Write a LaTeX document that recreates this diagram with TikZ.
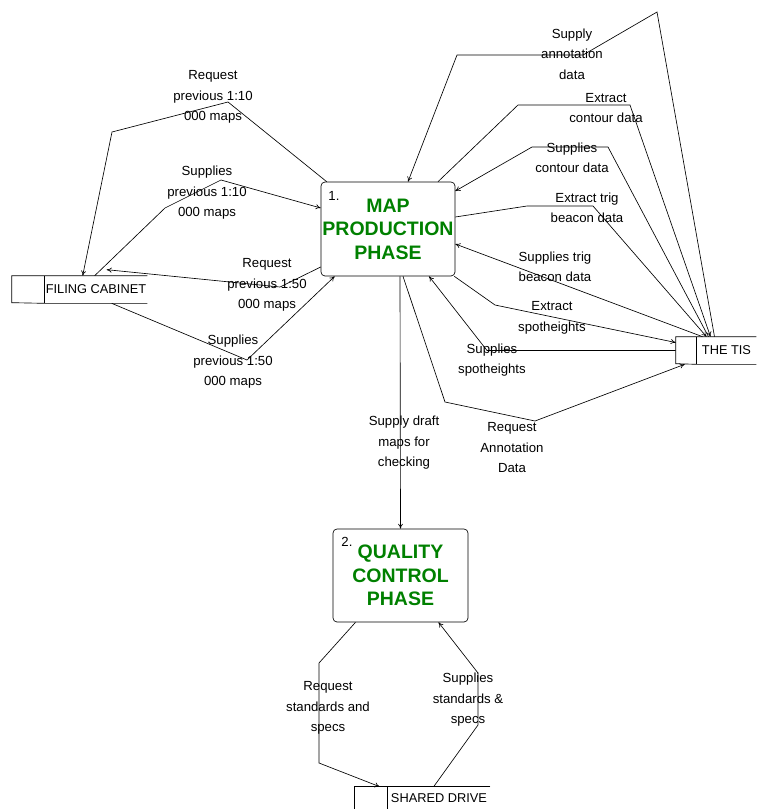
\documentclass[tikz,border=0pt]{standalone}
\usepackage{xcolor}
\usepackage{fontspec}
\setmainfont{Liberation Sans}
\usetikzlibrary{arrows.meta}
\definecolor{procgreen}{RGB}{0,128,0}
\begin{document}
\begin{tikzpicture}[x=1pt,y=-1pt,line width=0.65pt,>={To[length=5pt,width=5pt]},
    every node/.style={inner sep=0pt,align=center},
    proc/.style={draw,rectangle,rounded corners=4pt,text=procgreen,font=\bfseries\fontsize{19.5}{23.5}\selectfont},
    storetext/.style={rectangle,minimum height=27pt,font=\fontsize{12.8}{15}\selectfont},
    lbl/.style={font=\fontsize{13.2}{20.5}\selectfont},
    flow/.style={->}]
      \useasboundingbox (0,0) rectangle (756,809);
      % processes
      \node[proc,minimum width=134pt,minimum height=94pt] (mpp) at (388,229) {MAP\\PRODUCTION\\PHASE};
      \node[lbl] (mppnum) at (334,196) {1.};
      \node[proc,minimum width=135pt,minimum height=93pt] (qcp) at (400.5,575.5) {QUALITY\\CONTROL\\PHASE};
      \node[lbl] (qcpnum) at (347,542) {2.};
      % data stores
      \node[storetext,minimum width=102pt] (filing) at (96,289.5) {FILING CABINET};
      \draw (filing.north east) -- (filing.north west) -- ++(-33,0) -- ++(0,27) -- (filing.south west) -- (filing.south east);
      \draw (filing.north west) -- (filing.south west);
      \node[storetext,minimum width=59pt] (tis) at (726.5,350.5) {THE TIS};
      \draw (tis.north east) -- (tis.north west) -- ++(-21,0) -- ++(0,27) -- (tis.south west) -- (tis.south east);
      \draw (tis.north west) -- (tis.south west);
      \node[storetext,minimum width=102pt,minimum height=22pt] (shared) at (439,798) {SHARED DRIVE};
      \draw (shared.north east) -- (shared.north west) -- ++(-33,0) -- ++(0,22);
      \draw (shared.north west) -- (shared.south west);
      % flows to and from the filing cabinet
      \draw[flow] ([xshift=6]mpp.north west) -- (228,102) -- (112,132) -- ([xshift=38]filing.north west);
      \node[lbl] (req10) at (213,97) {Request\\previous 1:10\\000 maps};
      \draw[flow] ([xshift=50]filing.north west) -- (165,208) -- (221,180) -- ([yshift=21]mpp.west);
      \node[lbl] (sup10) at (207,193) {Supplies\\previous 1:10\\000 maps};
      \draw[flow] ([yshift=-38]mpp.west) -- (280,287) -- ([xshift=62,yshift=6]filing.north west);
      \node[lbl] (req50) at (267,285) {Request\\previous 1:50\\000 maps};
      \draw[flow] ([xshift=67]filing.south west) -- (247,360) -- ([xshift=14]mpp.south west);
      \node[lbl] (sup50) at (233,362) {Supplies\\previous 1:50\\000 maps};
      % flows to and from the TIS
      \draw[flow] ([xshift=-12]tis.north) -- (657,12) -- (583,55) -- (457,55) -- ([xshift=20]mpp.north);
      \node[lbl] (supann) at (572,54) {Supply\\annotation\\data};
      \draw[flow] ([xshift=50]mpp.north) -- (518,105) -- (630,105) -- ([xshift=-16]tis.north);
      \node[lbl] (extcon) at (606,108) {Extract\\contour data};
      \draw[flow] ([xshift=-18]tis.north) -- (608,147) -- (532,147) -- ([yshift=38]mpp.east);
      \node[lbl] (supcon) at (572,158) {Supplies\\contour data};
      \draw[flow] ([yshift=12]mpp.east) -- (527,206) -- (593,206) -- ([xshift=-20]tis.north);
      \node[lbl] (exttrig) at (587,208) {Extract trig\\beacon data};
      \draw[flow] ([xshift=-24]tis.north) -- ([yshift=-15]mpp.east);
      \node[lbl] (suptrig) at (555,267) {Supplies trig\\beacon data};
      \draw[flow] ([xshift=-1]mpp.south east) -- (495,305) -- ([xshift=-21,yshift=8]tis.west);
      \node[lbl] (extspot) at (552,318) {Extract\\spotheights};
      \draw[flow] ([xshift=-21]tis.west) -- (487,350.5) -- ([xshift=41]mpp.south);
      \node[lbl] (supspot) at (492,360) {Supplies\\spotheights};
      \draw[flow] ([xshift=15]mpp.south) -- (445,402) -- (535,421) -- ([xshift=-12]tis.south west);
      \node[lbl] (reqann) at (512,448) {Request\\Annotation\\Data};
      % map production to quality control
      \draw[flow] ([xshift=12]mpp.south) -- (qcp.north);
      \node[lbl] (draft) at (404,443) {Supply draft\\maps for\\checking};
      % flows to and from the shared drive
      \draw[flow] ([xshift=-45]qcp.south) -- (319,663) -- (319,763) -- ([xshift=-8]shared.north west);
      \node[lbl] (reqstd) at (328,708) {Request\\standards and\\specs};
      \draw[flow] ([xshift=46]shared.north west) -- (478,725) -- (478,673) -- ([xshift=38]qcp.south);
      \node[lbl] (supstd) at (468,700) {Supplies\\standards \&\\specs};
\end{tikzpicture}
\end{document}
